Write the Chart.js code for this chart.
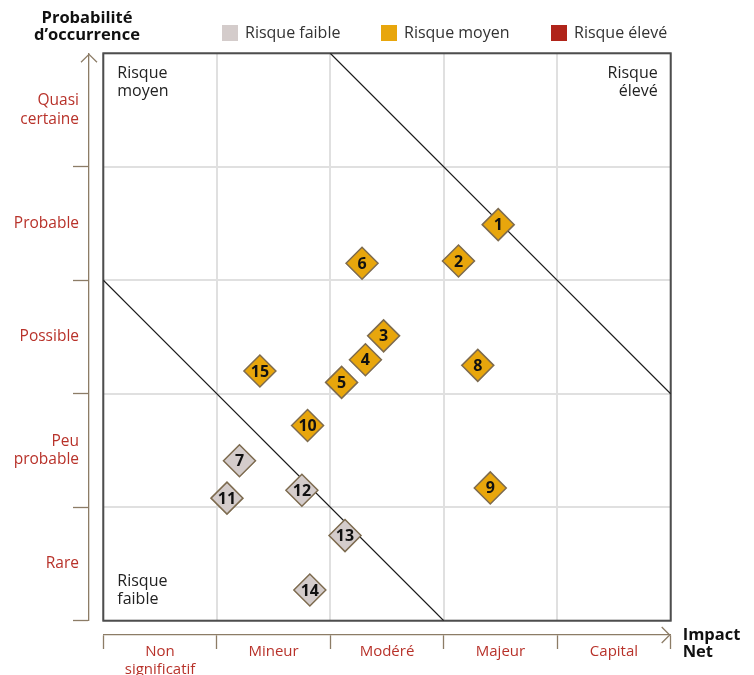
<!DOCTYPE html>
<html lang="fr">
<head>
<meta charset="utf-8">
<title>Matrice des risques</title>
<script src="https://cdn.jsdelivr.net/npm/chart.js@4.4.1/dist/chart.umd.min.js"></script>
<style>
  html, body { margin: 0; padding: 0; background: #fff; }
  #wrap { position: relative; width: 754px; height: 675px; }
</style>
</head>
<body>
<div id="wrap"><canvas id="riskMatrix" width="754" height="675"></canvas></div>
<script>
// axis categories
var impactLevels = [["Non", "significatif"], "Mineur", "Modéré", "Majeur", "Capital"];
var probabilityLevels = [["Quasi", "certaine"], "Probable", "Possible", ["Peu", "probable"], "Rare"];

// risks: id, impact (0-5), probability (0-5), level
var riskIds = [1, 2, 3, 4, 5, 6, 7, 8, 9, 10, 11, 12, 13, 14, 15];
var riskImpact = [3.48, 3.13, 2.47, 2.31, 2.10, 2.28, 1.20, 3.30, 3.41, 1.80, 1.09, 1.75, 2.13, 1.82, 1.38];
var riskProbability = [3.49, 3.17, 2.51, 2.30, 2.10, 3.15, 1.41, 2.25, 1.17, 1.72, 1.08, 1.15, 0.75, 0.27, 2.20];
var riskLevel = ["moyen", "moyen", "moyen", "moyen", "moyen", "moyen", "faible", "moyen", "moyen",
  "moyen", "faible", "faible", "faible", "faible", "moyen"];

// zone boundaries
var upperBoundary = [{ x: 2, y: 5 }, { x: 5, y: 2 }];
var lowerBoundary = [{ x: 0, y: 3 }, { x: 3, y: 0 }];

var levelNames = { faible: "Risque faible", moyen: "Risque moyen", eleve: "Risque élevé" };
var levelColors = { faible: "#d4cccb", moyen: "#e8a60c", eleve: "#b0241a" };
var axisBrown = "#8c7c66";
var labelRed = "#b8322a";
var fontFamily = "'Open Sans', 'Noto Sans', sans-serif";
var legendSlots = [222, 381, 551];

function pointsFor(level) {
  var pts = [];
  for (var i = 0; i < riskIds.length; i++) {
    if (riskLevel[i] === level) {
      pts.push({ x: riskImpact[i], y: riskProbability[i], id: riskIds[i] });
    }
  }
  return pts;
}

function riskDataset(level) {
  return {
    type: "scatter",
    label: levelNames[level],
    data: pointsFor(level),
    backgroundColor: levelColors[level],
    borderColor: "#7d6b4f",
    borderWidth: 1.5,
    pointStyle: "rectRot",
    pointRadius: 16,
    pointHoverRadius: 16,
    order: 1
  };
}

function boundaryDataset(pts) {
  return {
    type: "line",
    label: "",
    data: pts,
    borderColor: "#1a1a1a",
    borderWidth: 1.2,
    pointRadius: 0,
    fill: false,
    order: 2
  };
}

// frame, arrows, legend and free texts
var decorPlugin = {
  id: "decor",
  beforeDatasetsDraw: function (chart) {
    var a = chart.chartArea;
    var ctx = chart.ctx;
    ctx.save();
    ctx.strokeStyle = "#4d4d4d";
    ctx.lineWidth = 2;
    ctx.strokeRect(a.left, a.top, a.right - a.left, a.bottom - a.top);
    ctx.restore();
  },
  afterDatasetsDraw: function (chart) {
    var ctx = chart.ctx;
    var a = chart.chartArea;
    var xs = chart.scales.x, ys = chart.scales.y;

    // risk numbers
    ctx.save();
    ctx.font = "bold 16px " + fontFamily;
    ctx.fillStyle = "#111";
    ctx.textAlign = "center";
    ctx.textBaseline = "middle";
    for (var i = 0; i < riskIds.length; i++) {
      ctx.fillText(String(riskIds[i]), xs.getPixelForValue(riskImpact[i]), ys.getPixelForValue(riskProbability[i]) + 1);
    }
    ctx.restore();

    // zone names
    ctx.save();
    ctx.font = "16px " + fontFamily;
    ctx.fillStyle = "#222";
    ctx.textBaseline = "middle";
    ctx.textAlign = "left";
    ctx.fillText("Risque", a.left + 14, a.top + 20);
    ctx.fillText("moyen", a.left + 14, a.top + 38);
    ctx.fillText("Risque", a.left + 14, a.bottom - 39);
    ctx.fillText("faible", a.left + 14, a.bottom - 21);
    ctx.textAlign = "right";
    ctx.fillText("Risque", a.right - 13, a.top + 20);
    ctx.fillText("élevé", a.right - 13, a.top + 38);
    ctx.restore();

    // arrow heads
    var yx = chart.scales.y2.right;
    var xy = chart.scales.x2.top;
    ctx.save();
    ctx.strokeStyle = axisBrown;
    ctx.lineWidth = 1.3;
    ctx.beginPath();
    ctx.moveTo(yx - 8, a.top + 9);
    ctx.lineTo(yx, a.top + 1);
    ctx.lineTo(yx + 8, a.top + 9);
    ctx.moveTo(a.right - 9, xy - 8);
    ctx.lineTo(a.right - 1, xy);
    ctx.lineTo(a.right - 9, xy + 8);
    ctx.stroke();
    ctx.restore();

    // axis names
    ctx.save();
    ctx.font = "bold 16.5px " + fontFamily;
    ctx.fillStyle = "#111";
    ctx.textBaseline = "middle";
    ctx.textAlign = "center";
    ctx.fillText("Probabilité", 87, 18);
    ctx.fillText("d’occurrence", 87, 35);
    ctx.textAlign = "left";
    ctx.fillText("Impact", a.right + 12, xy);
    ctx.fillText("Net", a.right + 12, xy + 17);
    ctx.restore();

    // legend
    ctx.save();
    ctx.font = "16px " + fontFamily;
    ctx.textBaseline = "middle";
    ctx.textAlign = "left";
    var riskSets = chart.data.datasets.filter(function (ds) { return ds.label !== ""; });
    riskSets.forEach(function (ds, k) {
      var bx = legendSlots[k];
      ctx.fillStyle = ds.backgroundColor;
      ctx.fillRect(bx, 25, 16, 16);
      ctx.fillStyle = "#333";
      ctx.fillText(ds.label, bx + 23, 33.5);
    });
    ctx.restore();
  }
};

new Chart(document.getElementById("riskMatrix"), {
  type: "scatter",
  data: {
    datasets: [
      riskDataset("faible"),
      riskDataset("moyen"),
      riskDataset("eleve"),
      boundaryDataset(upperBoundary),
      boundaryDataset(lowerBoundary)
    ]
  },
  options: {
    responsive: false,
    animation: false,
    layout: { padding: { top: 53.3, right: 83.3, bottom: 0, left: 0 } },
    plugins: {
      tooltip: { enabled: false },
      legend: { display: false }
    },
    scales: {
      x: {
        type: "linear",
        min: 0,
        max: 5,
        position: "bottom",
        ticks: { display: false, stepSize: 1 },
        grid: { color: "#e0e0e0", lineWidth: 2, drawTicks: false },
        border: { display: false },
        afterFit: function (s) { s.height = 14.3; }
      },
      x2: {
        type: "category",
        labels: impactLevels,
        position: "bottom",
        offset: true,
        grid: {
          offset: true,
          drawOnChartArea: false,
          tickLength: 14,
          tickWidth: 1.3,
          tickColor: function (c) { return c.index === 5 ? "transparent" : axisBrown; }
        },
        border: { display: true, color: axisBrown, width: 1.3 },
        ticks: {
          color: labelRed,
          font: { family: fontFamily, size: 15 },
          padding: -6,
          maxRotation: 0,
          autoSkip: false
        },
        afterFit: function (s) { s.height = 40; }
      },
      y: {
        type: "linear",
        min: 0,
        max: 5,
        position: "left",
        ticks: { display: false, stepSize: 1 },
        grid: { color: "#e0e0e0", lineWidth: 2, drawTicks: false },
        border: { display: false },
        afterFit: function (s) { s.width = 14.3; }
      },
      y2: {
        type: "category",
        labels: probabilityLevels,
        position: "left",
        offset: true,
        grid: {
          offset: true,
          drawOnChartArea: false,
          tickLength: 16,
          tickWidth: 1.3,
          tickColor: function (c) { return c.index === 0 ? "transparent" : axisBrown; }
        },
        border: { display: true, color: axisBrown, width: 1.3 },
        ticks: {
          color: labelRed,
          font: { family: fontFamily, size: 15.5 },
          padding: -6,
          autoSkip: false
        },
        afterFit: function (s) { s.width = 89; }
      }
    }
  },
  plugins: [decorPlugin]
});
</script>
</body>
</html>
